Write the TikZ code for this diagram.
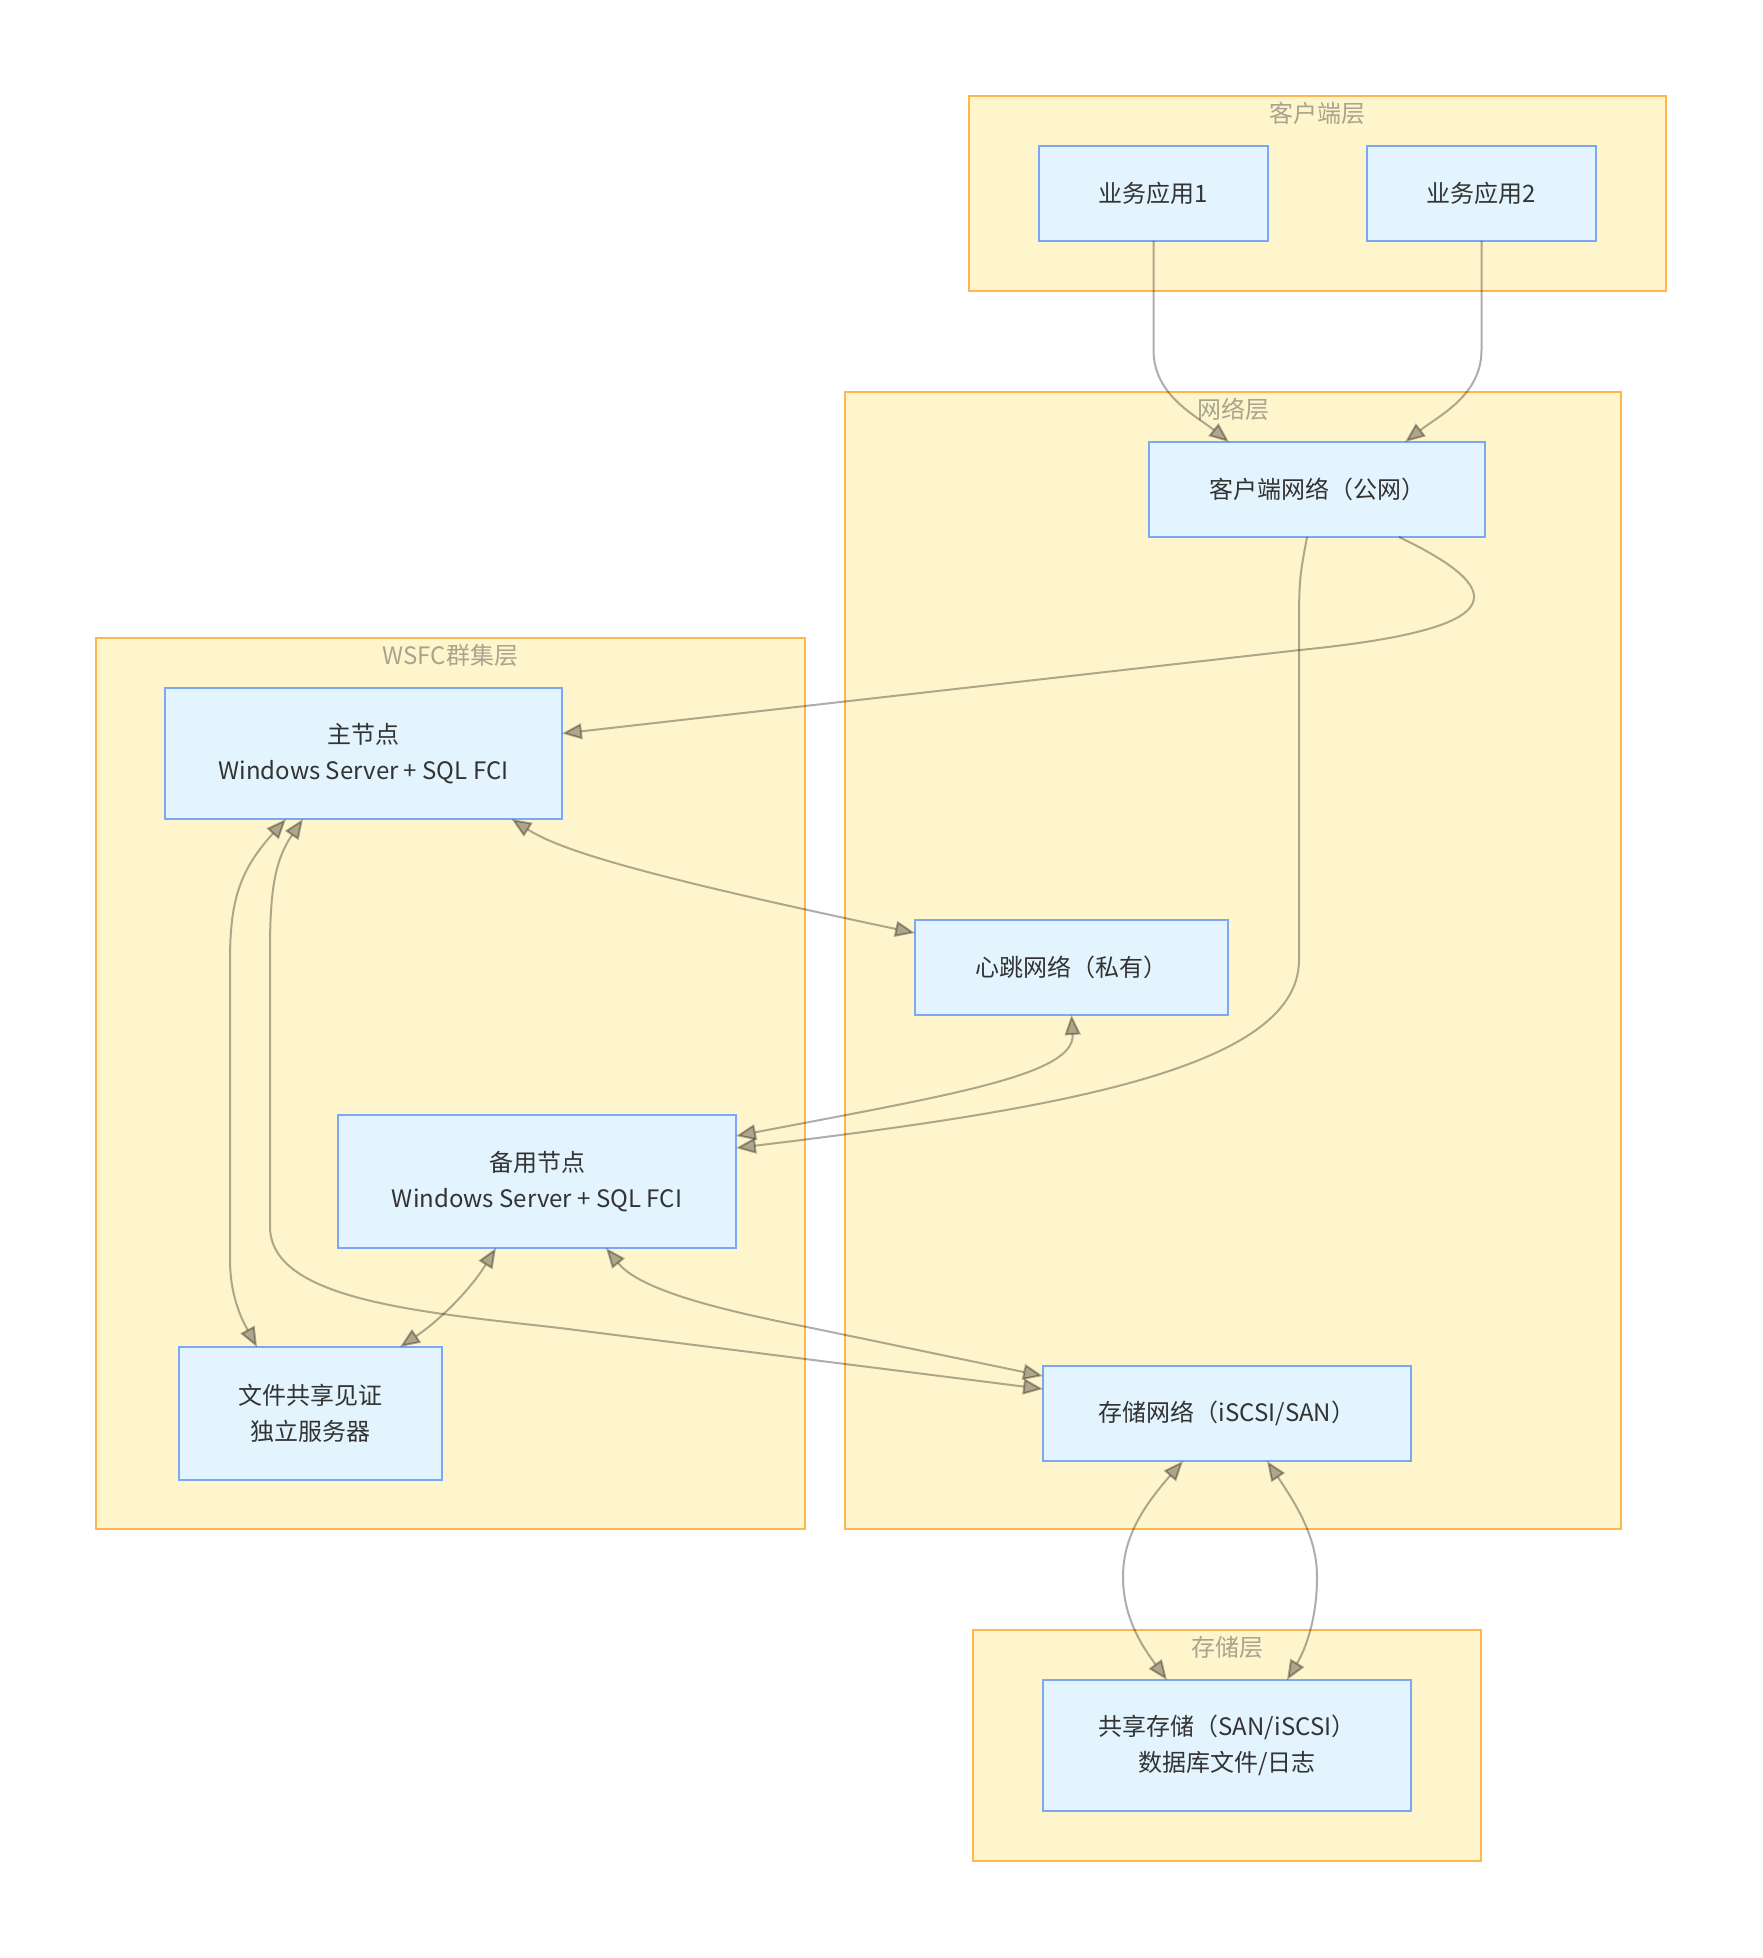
\documentclass[tikz,border=0pt]{standalone}
\usepackage{fontspec}
\setmainfont{Noto Sans CJK SC}
\usetikzlibrary{arrows.meta,calc}
\definecolor{nodefill}{HTML}{E3F4FE}
\definecolor{nodeline}{HTML}{7BA7F7}
\definecolor{layerfill}{HTML}{FFF5CC}
\definecolor{layerline}{HTML}{FFB74D}
\definecolor{layertext}{HTML}{A8A48E}
\definecolor{textgray}{HTML}{333333}

\begin{document}
\begin{tikzpicture}[x=0.5pt,y=-0.5pt,
  box/.style={draw=nodeline,fill=nodefill,line width=1pt,inner sep=0pt,outer sep=0pt,text=textgray,align=center,font=\fontsize{12}{18}\selectfont},
  layer/.style={draw=layerline,fill=layerfill,line width=1pt},
  layername/.style={text=layertext,font=\fontsize{12}{14}\selectfont},
  link/.style={draw=black,opacity=0.32,line width=1pt,-{Triangle[length=10pt,width=8pt]}},
  both/.style={link,{Triangle[length=10pt,width=8pt]}-{Triangle[length=10pt,width=8pt]}}]
\useasboundingbox [fill=white] (0,0) rectangle (1762,1958);

% layers
\draw [layer] (969,96) rectangle (1666,291);
\draw [layer] (845,392) rectangle (1621,1529);
\draw [layer] (96,638) rectangle (805,1529);
\draw [layer] (973,1630) rectangle (1481,1861);
\node (lclient) at (1317.5,113) [layername] {客户端层};
\node (lnet) at (1233,409) [layername] {网络层};
\node (lwsfc) at (450.5,655) [layername] {WSFC群集层};
\node (lstor) at (1227,1647) [layername] {存储层};

% client
\node (app1) at (1153.5,193.5) [box,minimum width=114.5pt,minimum height=47.5pt] {业务应用1};
\node (app2) at (1481.5,193.5) [box,minimum width=114.5pt,minimum height=47.5pt] {业务应用2};

% network
\node (cnet) at (1317,489.5) [box,minimum width=168pt,minimum height=47.5pt] {客户端网络（公网）};
\node (hb) at (1071.5,967.5) [box,minimum width=156.5pt,minimum height=47.5pt] {心跳网络（私有）};
\node (snet) at (1227,1413.5) [box,minimum width=184pt,minimum height=47.5pt] {存储网络（iSCSI/SAN）};

% cluster
\node (prim) at (363.5,753.5) [box,minimum width=198.5pt,minimum height=65.5pt] {主节点\\Windows Server + SQL FCI};
\node (sec) at (537,1181.5) [box,minimum width=199pt,minimum height=66.5pt] {备用节点\\Windows Server + SQL FCI};
\node (fsw) at (310.5,1413.5) [box,minimum width=131.5pt,minimum height=66.5pt] {文件共享见证\\独立服务器};

% storage
\node (shared) at (1227,1745.5) [box,minimum width=184pt,minimum height=65.5pt] {共享存储（SAN/iSCSI）\\数据库文件/日志};

% links
\draw [link] (app1.south) -- (1153.5,350) .. controls (1153.5,395) and (1195,415) .. ($(cnet.north)+(-88,0)$);
\draw [link] (app2.south) -- (1481.5,350) .. controls (1481.5,395) and (1440,415) .. ($(cnet.north)+(88,0)$);
\draw [link] ($(cnet.south)+(82,0)$) .. controls (1520,595) and (1500,630) .. (1300,650) -- ($(prim.east)+(0,-20)$);
\draw [link] ($(cnet.south)+(-10,0)$) .. controls (1299,580) .. (1299,640) -- (1299,960) .. controls (1299,1070) and (1050,1110) .. ($(sec.east)+(0,-33.5)$);
\draw [both] ($(prim.south)+(148,0)$) .. controls (560,850) and (640,875) .. ($(hb.west)+(0,-34.5)$);
\draw [both] (hb.south) .. controls (1075,1075) and (950,1095) .. ($(sec.east)+(0,-45.5)$);
\draw [both] ($(prim.south)+(-77.5,0)$) .. controls (240,870) and (230,900) .. (230,960) -- (230,1260) .. controls (230,1300) and (245,1325) .. ($(fsw.north)+(-53.5,0)$);
\draw [both] ($(prim.south)+(-60.5,0)$) .. controls (275,860) and (270,890) .. (270,950) -- (270,1225) .. controls (268,1300) and (420,1312) .. (560,1328) -- ($(snet.west)+(0,-24.5)$);
\draw [both] ($(sec.south)+(-41,0)$) .. controls (470,1290) and (440,1320) .. ($(fsw.north)+(89.5,0)$);
\draw [both] ($(sec.south)+(69,0)$) .. controls (640,1290) and (720,1310) .. (807,1327) -- ($(snet.west)+(0,-37.5)$);
\draw [both] ($(snet.south)+(-44,0)$) .. controls (1140,1510) and (1123,1540) .. (1123,1577) .. controls (1123,1620) and (1145,1650) .. ($(shared.north)+(-60,0)$);
\draw [both] ($(snet.south)+(40,0)$) .. controls (1300,1510) and (1317,1540) .. (1317,1577) .. controls (1317,1620) and (1305,1650) .. ($(shared.north)+(60,0)$);
\end{tikzpicture}
\end{document}
